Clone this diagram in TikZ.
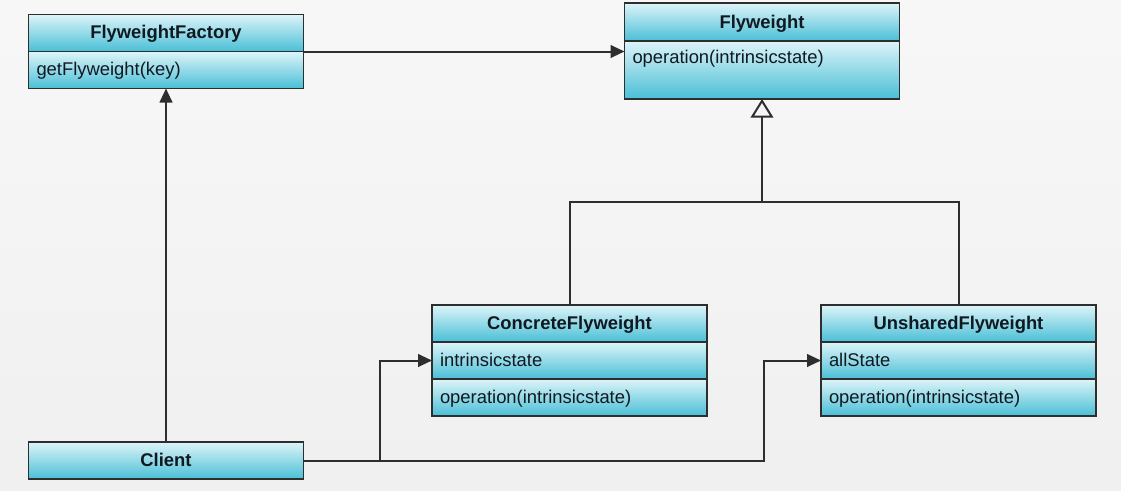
\documentclass[tikz,border=0pt]{standalone}
\usepackage{fontspec}
\setmainfont{Liberation Sans}
\usepackage{tikz}
\usetikzlibrary{arrows.meta,positioning,calc}
\definecolor{boxtop}{HTML}{DDF4F9}
\definecolor{boxbot}{HTML}{49BFD6}
\definecolor{edge}{HTML}{2E2E2E}
\definecolor{ink}{HTML}{101820}

\begin{document}
\begin{tikzpicture}[x=0.75pt,y=-0.75pt,
  cls/.style={draw=edge,line width=1.4pt,top color=boxtop,bottom color=boxbot,text=ink,outer sep=0pt,
    inner xsep=6pt,inner ysep=0pt,text width=194.25pt,text height=18pt,text depth=9.75pt,
    font=\fontsize{13.8}{16}\selectfont},
  hd/.style={cls,align=center,font=\fontsize{13.8}{16}\selectfont\bfseries},
  row/.style={cls,align=left},
  ln/.style={draw=edge,line width=1.5pt},
  arr/.style={ln,-{Triangle[length=10.5pt,width=9.5pt]}},
  inh/.style={ln,-{Triangle[open,length=14pt,width=17pt]}}]
\shade[top color=gray!6,bottom color=gray!12] (0,0) rectangle (1121,490);
\node[hd] (factory) at (166,33) {FlyweightFactory};
\node[row,below=0pt of factory] (factory-ops) {getFlyweight(key)};
\node[hd,text height=18.75pt] (flyweight) at (762,22) {Flyweight};
\node[row,below=0pt of flyweight,text height=16.5pt,text depth=27pt] (flyweight-ops) {operation(intrinsicstate)};
\node[hd] (concrete) at (569.5,323.5) {ConcreteFlyweight};
\node[row,below=0pt of concrete] (concrete-attr) {intrinsicstate};
\node[row,below=0pt of concrete-attr] (concrete-ops) {operation(intrinsicstate)};
\node[hd] (unshared) at (958.5,323.5) {UnsharedFlyweight};
\node[row,below=0pt of unshared] (unshared-attr) {allState};
\node[row,below=0pt of unshared-attr] (unshared-ops) {operation(intrinsicstate)};
\node[hd] (client) at (166,460.5) {Client};
\coordinate (rail) at ($(flyweight-ops.south)!.5!(concrete.north)$);
\coordinate (split) at ($(client.east)+(76,0)$);
\coordinate (bend) at ($(client.east)+(460,0)$);
\draw[arr] (factory.south east) -- (factory.south east -| flyweight-ops.west);
\draw[arr] (client.north) -- (factory-ops.south);
\draw[ln] (concrete.north) |- (rail) -| (unshared.north);
\draw[inh] (rail -| flyweight-ops.south) -- (flyweight-ops.south);
\draw[arr] (client.east) -- (split) |- (concrete-attr.west);
\draw[arr] (split) -- (bend) |- (unshared-attr.west);
\end{tikzpicture}
\end{document}
